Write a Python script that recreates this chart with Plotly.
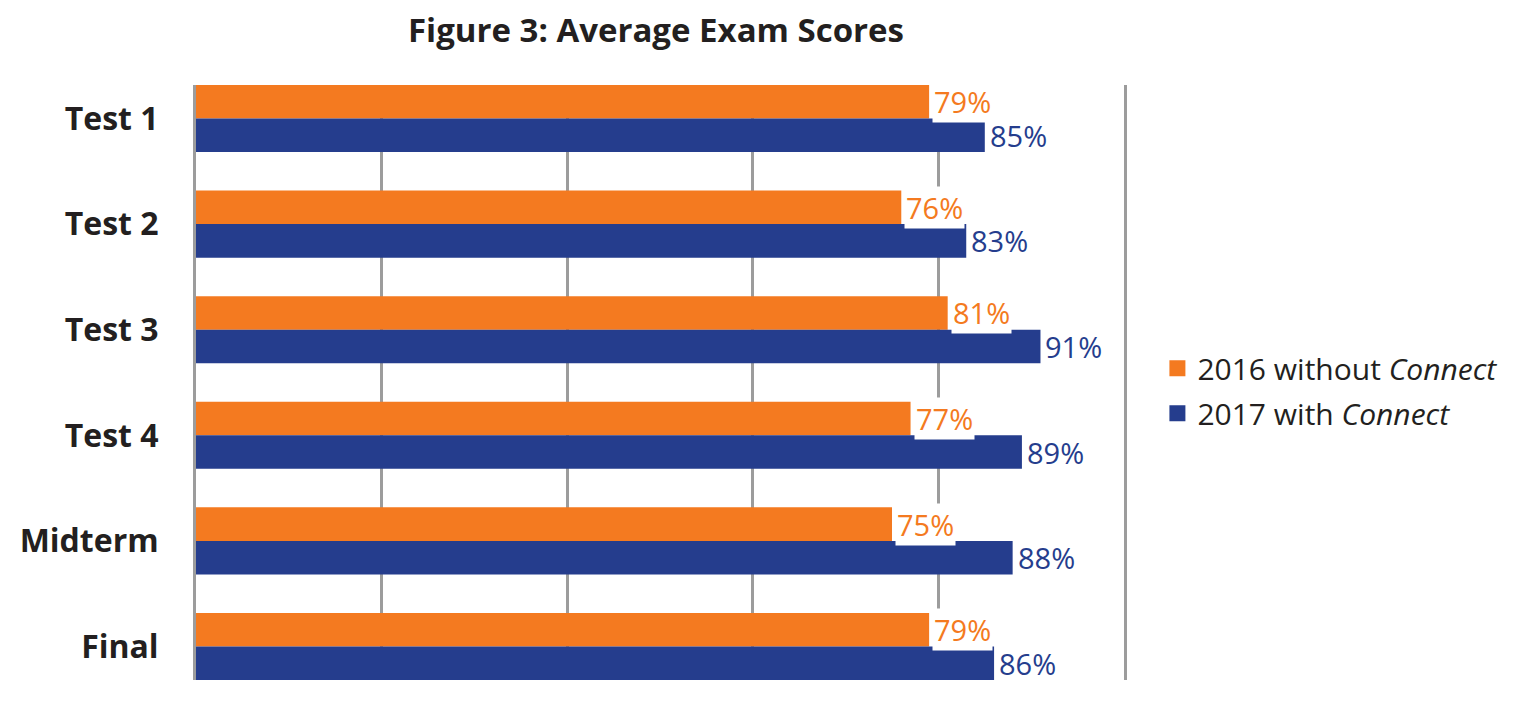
import plotly.graph_objects as go

# Data
exams = ["Test 1", "Test 2", "Test 3", "Test 4", "Midterm", "Final"]
scores_2016 = [79, 76, 81, 77, 75, 79]
scores_2017 = [85, 83, 91, 89, 88, 86]
series_names = ["2016 without <i>Connect</i>", "2017 with <i>Connect</i>"]

ORANGE = "#F47A20"
BLUE = "#253D8D"
DARK = "#231F20"
GRAY = "#9C9C9C"
FONT = "Open Sans"

# page has an 8px body margin, so the figure is a bit smaller than the window
W, H = 1507, 686
bargap = 0.365
plot_h = 595

fig = go.Figure()

# Bars
for vals, color in [(scores_2016, ORANGE), (scores_2017, BLUE)]:
    fig.add_trace(
        go.Bar(
            y=exams,
            x=vals,
            orientation="h",
            marker=dict(color=color, line=dict(width=0)),
            showlegend=False,
            hoverinfo="x+y",
        )
    )

# Legend-only traces so the swatches can be bigger than the default bar symbol
for i, (name, color) in enumerate(zip(series_names, [ORANGE, BLUE])):
    fig.add_trace(
        go.Scatter(
            x=[None],
            y=[None],
            mode="markers",
            name=name,
            legendgroup=f"g{i}",
            marker=dict(symbol="square", size=22, color=color),
        )
    )

# Value labels with white boxes (they hide the gridlines like the original)
bar_half = (plot_h / (6 - bargap)) * (1 - bargap) / 4
for vals, color, shift in [(scores_2016, ORANGE, bar_half), (scores_2017, BLUE, -bar_half)]:
    for cat, v in zip(exams, vals):
        fig.add_annotation(
            x=v,
            y=cat,
            text=f"{v}%",
            showarrow=False,
            xanchor="left",
            yanchor="middle",
            xshift=3,
            yshift=shift,
            bgcolor="white",
            borderpad=1,
            font=dict(family=FONT, size=29, color=color),
        )

fig.update_layout(
    width=W,
    height=H,
    margin=dict(l=180, r=W - 1116, t=77, b=H - 672),
    paper_bgcolor="white",
    plot_bgcolor="white",
    barmode="group",
    bargap=bargap,
    bargroupgap=0,
    title=dict(
        text="<b>Figure 3: Average Exam Scores</b>",
        x=648 / W,
        xanchor="center",
        y=1 - 22 / H,
        yanchor="middle",
        font=dict(family=FONT, size=33, color=DARK),
    ),
    legend=dict(
        x=1.036,
        xanchor="left",
        y=0.486,
        yanchor="middle",
        font=dict(family=FONT, size=30, color=DARK),
        tracegroupgap=3,
        itemsizing="trace",
        bgcolor="rgba(0,0,0,0)",
    ),
    xaxis=dict(
        range=[0, 100],
        dtick=20,
        showgrid=True,
        gridcolor=GRAY,
        gridwidth=3,
        showticklabels=False,
        zeroline=False,
        showline=False,
        fixedrange=True,
    ),
    yaxis=dict(
        categoryorder="array",
        categoryarray=exams,
        range=[5.5 - bargap / 2, -0.5 + bargap / 2],
        showline=True,
        mirror=True,
        linecolor=GRAY,
        linewidth=3,
        showgrid=False,
        zeroline=False,
        ticks="",
        ticklabelstandoff=28,
        tickfont=dict(family=FONT, size=32, color=DARK, weight="bold"),
    ),
)

fig.write_html("out.html")
